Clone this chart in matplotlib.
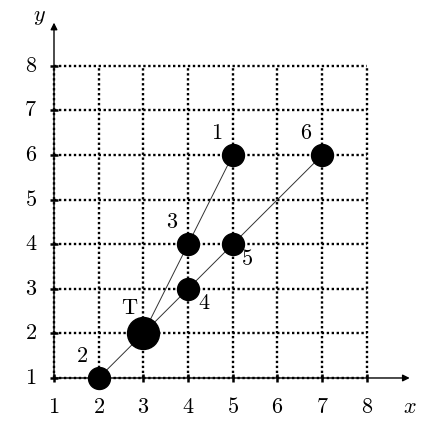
import matplotlib.pyplot as plt

plt.rcParams['mathtext.fontset'] = 'cm'

# nodes
names = ['1', '2', '3', '4', '5', '6', 'T']
node_x = [5, 2, 4, 4, 5, 7, 3]
node_y = [6, 1, 4, 3, 4, 6, 2]
# label offsets (data units) relative to node
lab_dx = [-0.35, -0.37, -0.36, 0.36, 0.32, -0.36, -0.30]
lab_dy = [0.49, 0.49, 0.50, -0.32, -0.33, 0.49, 0.57]
# edges as pairs of node names
edges = [('2', 'T'), ('T', '3'), ('3', '1'), ('T', '4'), ('4', '5'), ('5', '6')]

ticks = list(range(1, 9))

fig = plt.figure(figsize=(4.39, 4.25), dpi=100)
ax = fig.add_axes([0, 0, 1, 1])
ax.set_xlim(-0.208, 9.613)
ax.set_ylim(-0.054, 9.475)
ax.axis('off')

# dotted grid
for t in ticks:
    ax.plot([t, t], [1, 8], color='black', lw=1.7, ls=(0, (1, 1.1)), zorder=1)
    ax.plot([1, 8], [t, t], color='black', lw=1.7, ls=(0, (1, 1.1)), zorder=1)

# axes with arrows
ax.annotate('', xy=(9.02, 1), xytext=(1, 1),
            arrowprops=dict(arrowstyle='-|>', lw=1.0, color='black', mutation_scale=10))
ax.annotate('', xy=(1, 9.03), xytext=(1, 1),
            arrowprops=dict(arrowstyle='-|>', lw=1.0, color='black', mutation_scale=10))
ax.plot(ticks, [1] * len(ticks), '|', color='black', ms=6, mew=1.8, zorder=2)
ax.plot([1] * len(ticks), ticks, '_', color='black', ms=6, mew=1.8, zorder=2)

for t in ticks:
    ax.text(t, 0.35, '$%d$' % t, ha='center', va='center', fontsize=16)
    ax.text(0.48, t, '$%d$' % t, ha='center', va='center', fontsize=16)
ax.text(8.97, 0.35, '$x$', ha='center', va='center', fontsize=16)
ax.text(0.68, 9.1, '$y$', ha='center', va='center', fontsize=16)

# edges
idx = {n: i for i, n in enumerate(names)}
for a, b in edges:
    ax.plot([node_x[idx[a]], node_x[idx[b]]], [node_y[idx[a]], node_y[idx[b]]],
            color='#333333', lw=0.7, zorder=3)

# nodes
for i, n in enumerate(names):
    ms = 23 if n == 'T' else 15.8
    ax.plot(node_x[i], node_y[i], 'o', color='black', ms=ms, zorder=4)
    lab = r'$\mathrm{T}$' if n == 'T' else '$%s$' % n
    ax.text(node_x[i] + lab_dx[i], node_y[i] + lab_dy[i], lab,
            ha='center', va='center', fontsize=16)

fig.savefig('out.png', dpi=100)
